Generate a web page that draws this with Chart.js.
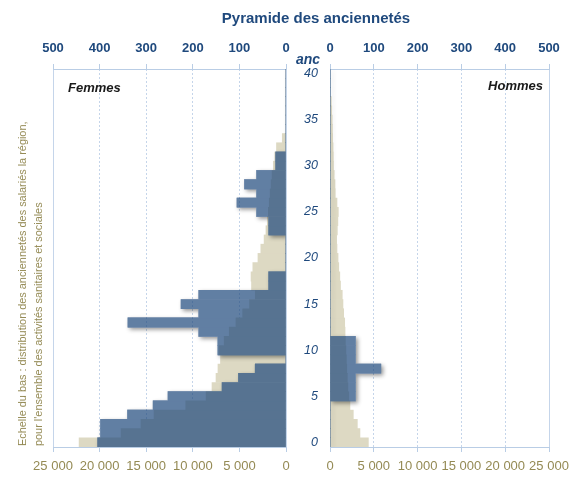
<!DOCTYPE html>
<html><head><meta charset="utf-8">
<script src="https://cdn.jsdelivr.net/npm/chart.js@4.4.1/dist/chart.umd.min.js"></script>
<style>
html,body{margin:0;padding:0;background:#fff;}
#wrap{position:relative;width:569px;height:480px;overflow:hidden;font-family:"Liberation Sans",Arial,sans-serif;}
#left{position:absolute;left:0;top:0;width:290px;height:480px;}
#right{position:absolute;left:290px;top:0;width:279px;height:480px;}
.t{position:absolute;white-space:nowrap;}
#title{left:316px;top:8px;transform:translateX(-50%);font-size:15px;font-weight:bold;color:#1F497D;line-height:20px;}
#anc{left:308px;top:51px;transform:translateX(-50%);font-size:14px;font-weight:bold;font-style:italic;color:#1F497D;line-height:16px;}
#femmes{left:68px;top:80px;font-size:13px;font-weight:bold;font-style:italic;color:#1a1a1a;line-height:16px;}
#hommes{right:26px;top:78px;font-size:13px;font-weight:bold;font-style:italic;color:#1a1a1a;line-height:16px;}
#note{left:14px;top:446px;transform-origin:0 0;transform:rotate(-90deg);font-size:10.9px;color:#948A54;line-height:16px;}
</style></head><body>
<div id="wrap">
<canvas id="left" width="290" height="480"></canvas>
<canvas id="right" width="279" height="480"></canvas>
<div class="t" id="title">Pyramide des anciennetés</div>
<div class="t" id="anc">anc</div>
<div class="t" id="femmes">Femmes</div>
<div class="t" id="hommes">Hommes</div>
<div class="t" id="note">Echelle du bas : distribution des anciennetés des salariés la région,<br>pour l'ensemble des activités sanitaires et sociales</div>
</div>
<script>
// Ancienneté categories (years)
const categories = ['0','1','2','3','4','5','6','7','8','9','10','11','12','13','14','15','16','17','18','19','20',
  '21','22','23','24','25','26','27','28','29','30','31','32','33','34','35','36','37','38','39','40'];

// Top scale (0-500): establishment
const femmesHaut = [404,398,398,340,285,253,137,102,66,0,146,146,187,339,187,225,187,37,37,0,0,
  0,0,37,37,63,105,63,89,63,22,22,0,0,0,0,0,0,0,0,0];
const hommesHaut = [0,0,0,0,0,58,58,58,116,58,58,58,0,0,0,0,0,0,0,0,0,
  0,0,0,0,0,0,0,0,0,0,0,0,0,0,0,0,0,0,0,0];

// Bottom scale (0-25000): region, sanitaire et social
const femmesBas = [22200,17700,15560,14160,10760,8580,7940,7510,7300,7030,7190,6640,6090,5370,4650,3920,3300,3700,3750,3560,3010,
  2700,2350,2150,2000,1900,1800,1700,1600,1500,1350,1200,1020,400,0,0,0,0,0,0,0];
const hommesBas = [4380,3420,3120,2660,2280,2150,2050,1980,1920,1870,1820,1760,1720,1680,1560,1480,1400,1200,1120,1000,920,
  800,760,840,900,950,800,600,570,480,400,380,350,300,280,250,200,150,0,0,0];

// Axis ticks
const topTicks = [0,100,200,300,400,500];
const bottomTicks = [0,5000,10000,15000,20000,25000];

const BLUE = '#1F497D';
const BLUE_ALPHA = 0.7;
const BEIGE = '#DDD9C3';
const TXTBLUE = '#1F497D';
const OLIVE = '#948A54';
const AXIS = '#B9CDE5';
const GRID = '#C5D5EA';

Chart.defaults.font.family = "'Liberation Sans', Arial, sans-serif";

function fmt(v){ return String(v).replace(/\B(?=(\d{3})+(?!\d))/g,' '); }

// Draws the semi-transparent, shadowed series as one layer (like the spreadsheet's shape effects)
const layerPlugin = {
  id:'layerShadow',
  beforeDatasetDraw(chart, args){
    const ds = chart.data.datasets[args.index];
    if(!ds.layered) return;
    const W = chart.canvas.width, H = chart.canvas.height;
    const layer = document.createElement('canvas'); layer.width = W; layer.height = H;
    const lc = layer.getContext('2d');
    const a = chart.chartArea;
    lc.save();
    lc.beginPath(); lc.rect(a.left, a.top, a.right-a.left, a.bottom-a.top); lc.clip();
    args.meta.data.forEach(el => { if(!el.hidden) el.draw(lc); });
    lc.restore();
    const sh = document.createElement('canvas'); sh.width = W; sh.height = H;
    const sc = sh.getContext('2d');
    sc.shadowColor = 'rgba(0,0,0,0.42)';
    sc.shadowBlur = 4;
    sc.shadowOffsetX = 2;
    sc.shadowOffsetY = 2;
    sc.drawImage(layer, 0, 0);
    sc.shadowColor = 'rgba(0,0,0,0)';
    sc.globalCompositeOperation = 'destination-out';
    sc.drawImage(layer, 0, 0);
    const ctx = chart.ctx;
    ctx.save();
    ctx.setTransform(1,0,0,1,0,0);
    ctx.beginPath(); ctx.rect(a.left, a.top, a.right-a.left, a.bottom-a.top); ctx.clip();
    ctx.drawImage(sh, 0, 0);
    ctx.globalAlpha = BLUE_ALPHA;
    ctx.drawImage(layer, 0, 0);
    ctx.restore();
    return false;
  }
};

function fitX(h){
  return sc => { sc.height = h; sc.paddingLeft = 0; sc.paddingRight = 0; };
}

function makeScales(isLeft){
  return {
    y: {
      type:'category', reverse:true, position:'left',
      ticks: isLeft ? {display:false} : {
        autoSkip:false, padding:12, color:TXTBLUE,
        font:{size:12.5, style:'italic'},
        callback:(v,i)=> (i%5===0 ? categories[i] : '')
      },
      grid:{display:false, drawTicks:false},
      border:{display:!isLeft, color:AXIS},
      afterFit:sc=>{ sc.width = isLeft ? 53 : 40; sc.paddingTop = 0; sc.paddingBottom = 0; }
    },
    xTop: {
      type:'linear', position:'top', reverse:isLeft, min:0, max:500,
      afterBuildTicks:sc=>{ sc.ticks = topTicks.map(v=>({value:v})); },
      ticks:{color:TXTBLUE, font:{size:13, weight:'bold'}, padding:8, maxRotation:0, minRotation:0, autoSkip:false},
      grid:{drawOnChartArea:false, tickLength:5, color:AXIS},
      border:{color:AXIS},
      afterFit:fitX(69)
    },
    xBottom: {
      type:'linear', position:'bottom', reverse:isLeft, min:0, max:25000,
      afterBuildTicks:sc=>{ sc.ticks = bottomTicks.map(v=>({value:v})); },
      ticks:{color:OLIVE, font:{size:13}, padding:7, maxRotation:0, minRotation:0, autoSkip:false, callback:v=>fmt(v)},
      grid:{color:GRID, tickLength:5, tickColor:AXIS},
      border:{color:AXIS, dash:c=> (c.tick && (c.tick.value===0 || c.tick.value===25000)) ? [] : [2,2]},
      afterFit:fitX(33)
    }
  };
}

function makeChart(id, haut, bas, isLeft, nameHaut, nameBas){
  return new Chart(document.getElementById(id), {
    type:'bar',
    data:{
      labels:categories,
      datasets:[
        {label:nameHaut, data:haut, xAxisID:'xTop', yAxisID:'y', backgroundColor:BLUE, order:1, layered:true},
        {label:nameBas, data:bas, xAxisID:'xBottom', yAxisID:'y', backgroundColor:BEIGE, order:2}
      ]
    },
    options:{
      indexAxis:'y', responsive:false, animation:false, devicePixelRatio:1,
      layout:{padding:{left:0, right: isLeft ? 4 : 20, top:0, bottom:0}},
      datasets:{bar:{categoryPercentage:1, barPercentage:1, grouped:false, borderWidth:0}},
      plugins:{legend:{display:false}, tooltip:{enabled:false}, title:{display:false}},
      scales:makeScales(isLeft)
    },
    plugins:[layerPlugin]
  });
}

makeChart('left', femmesHaut, femmesBas, true, 'Femmes (échelle du haut)', 'Femmes (échelle du bas)');
makeChart('right', hommesHaut, hommesBas, false, 'Hommes (échelle du haut)', 'Hommes (échelle du bas)');
</script>
</body></html>
